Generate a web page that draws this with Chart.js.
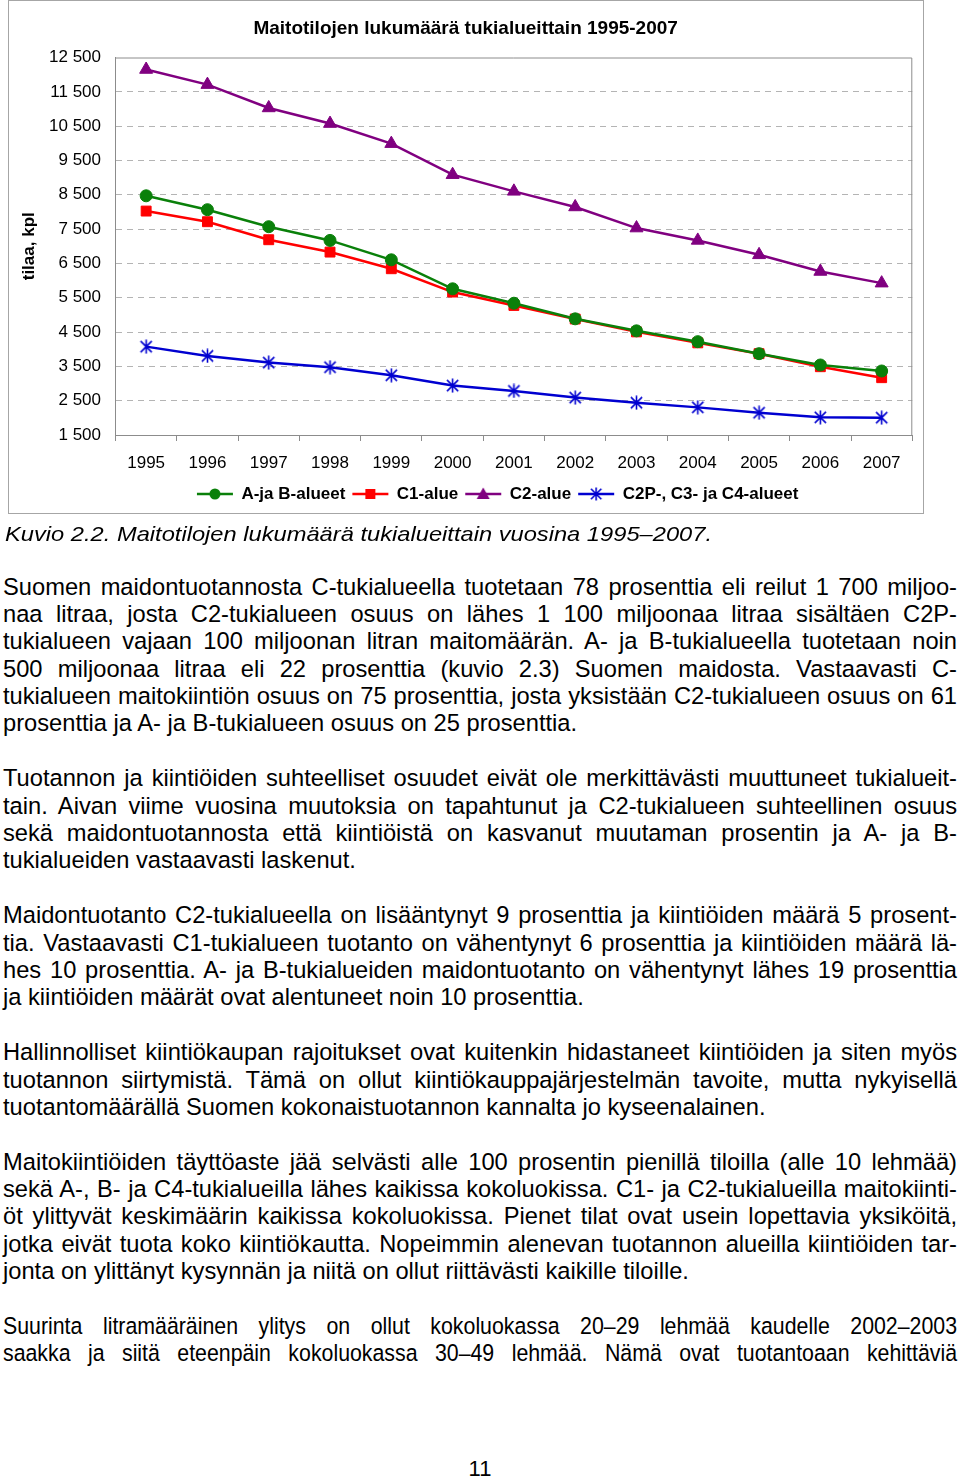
<!DOCTYPE html>
<html><head><meta charset="utf-8">
<script src="https://cdn.jsdelivr.net/npm/chart.js@4.4.0/dist/chart.umd.min.js"></script>
<style>
html,body{margin:0;padding:0;background:#fff;}
body{width:960px;height:1478px;position:relative;overflow:hidden;font-family:"Liberation Sans",Arial,sans-serif;color:#000;}
#frame{position:absolute;left:8px;top:0;width:914px;height:512px;border:1px solid #a6a6a6;}
#chart{position:absolute;left:9px;top:1px;}
#caption{position:absolute;left:5px;top:520px;font-style:italic;font-size:21px;line-height:27px;white-space:nowrap;}
#caption span{display:inline-block;white-space:pre;transform-origin:0 0;}
#body{position:absolute;left:3px;top:573.5px;width:954px;font-size:23.7px;line-height:27.4px;}
.ln{height:27.4px;white-space:nowrap;}
.ln span{white-space:pre;display:inline-block;transform-origin:0 0;}
#page{position:absolute;left:0;width:960px;top:1455px;text-align:center;font-size:22px;line-height:27px;}
</style></head>
<body>
<div id="frame"></div>
<canvas id="chart" width="914" height="530"></canvas>
<div id="caption"><span>Kuvio 2.2. Maitotilojen lukumäärä tukialueittain vuosina 1995–2007.</span></div>
<div id="body">
<div class="ln j"><span>Suomen maidontuotannosta C-tukialueella tuotetaan 78 prosenttia eli reilut 1 700 miljoo-</span></div>
<div class="ln j"><span>naa litraa, josta C2-tukialueen osuus on lähes 1 100 miljoonaa litraa sisältäen C2P-</span></div>
<div class="ln j"><span>tukialueen vajaan 100 miljoonan litran maitomäärän. A- ja B-tukialueella tuotetaan noin</span></div>
<div class="ln j"><span>500 miljoonaa litraa eli 22 prosenttia (kuvio 2.3) Suomen maidosta. Vastaavasti C-</span></div>
<div class="ln j"><span>tukialueen maitokiintiön osuus on 75 prosenttia, josta yksistään C2-tukialueen osuus on 61</span></div>
<div class="ln"><span>prosenttia ja A- ja B-tukialueen osuus on 25 prosenttia.</span></div>
<div class="ln"></div>
<div class="ln j"><span>Tuotannon ja kiintiöiden suhteelliset osuudet eivät ole merkittävästi muuttuneet tukialueit-</span></div>
<div class="ln j"><span>tain. Aivan viime vuosina muutoksia on tapahtunut ja C2-tukialueen suhteellinen osuus</span></div>
<div class="ln j"><span>sekä maidontuotannosta että kiintiöistä on kasvanut muutaman prosentin ja A- ja B-</span></div>
<div class="ln"><span>tukialueiden vastaavasti laskenut.</span></div>
<div class="ln"></div>
<div class="ln j"><span>Maidontuotanto C2-tukialueella on lisääntynyt 9 prosenttia ja kiintiöiden määrä 5 prosent-</span></div>
<div class="ln j"><span>tia. Vastaavasti C1-tukialueen tuotanto on vähentynyt 6 prosenttia ja kiintiöiden määrä lä-</span></div>
<div class="ln j"><span>hes 10 prosenttia. A- ja B-tukialueiden maidontuotanto on vähentynyt lähes 19 prosenttia</span></div>
<div class="ln"><span>ja kiintiöiden määrät ovat alentuneet noin 10 prosenttia.</span></div>
<div class="ln"></div>
<div class="ln j"><span>Hallinnolliset kiintiökaupan rajoitukset ovat kuitenkin hidastaneet kiintiöiden ja siten myös</span></div>
<div class="ln j"><span>tuotannon siirtymistä. Tämä on ollut kiintiökauppajärjestelmän tavoite, mutta nykyisellä</span></div>
<div class="ln"><span>tuotantomäärällä Suomen kokonaistuotannon kannalta jo kyseenalainen.</span></div>
<div class="ln"></div>
<div class="ln j"><span>Maitokiintiöiden täyttöaste jää selvästi alle 100 prosentin pienillä tiloilla (alle 10 lehmää)</span></div>
<div class="ln j"><span>sekä A-, B- ja C4-tukialueilla lähes kaikissa kokoluokissa. C1- ja C2-tukialueilla maitokiinti-</span></div>
<div class="ln j"><span>öt ylittyvät keskimäärin kaikissa kokoluokissa. Pienet tilat ovat usein lopettavia yksiköitä,</span></div>
<div class="ln j"><span>jotka eivät tuota koko kiintiökautta. Nopeimmin alenevan tuotannon alueilla kiintiöiden tar-</span></div>
<div class="ln"><span>jonta on ylittänyt kysynnän ja niitä on ollut riittävästi kaikille tiloille.</span></div>
<div class="ln"></div>
<div class="ln j" data-sx="0.9"><span>Suurinta litramääräinen ylitys on ollut kokoluokassa 20–29 lehmää kaudelle 2002–2003</span></div>
<div class="ln j" data-sx="0.9"><span>saakka ja siitä eteenpäin kokoluokassa 30–49 lehmää. Nämä ovat tuotantoaan kehittäviä</span></div>
</div>
<div id="page">11</div>
<script>
// ---- data ----
const years = ['1995','1996','1997','1998','1999','2000','2001','2002','2003','2004','2005','2006','2007'];
const abAlueet = [8470, 8065, 7570, 7170, 6605, 5760, 5340, 4885, 4535, 4220, 3870, 3540, 3365];
const c1Alue   = [8025, 7715, 7190, 6830, 6345, 5665, 5275, 4880, 4505, 4185, 3870, 3490, 3170];
const c2Alue   = [12150, 11710, 11030, 10575, 9990, 9085, 8600, 8145, 7530, 7170, 6750, 6265, 5925];
const c2pC3C4  = [4075, 3805, 3610, 3475, 3240, 2940, 2785, 2590, 2440, 2305, 2150, 2015, 2005];
const seriesNames = ['A-ja B-alueet', 'C1-alue', 'C2-alue', 'C2P-, C3- ja C4-alueet'];
const yMin = 1500, yMax = 12500, yStep = 1000;
const chartTitle = 'Maitotilojen lukumäärä tukialueittain 1995-2007';
const yTitle = 'tilaa, kpl';

const GREEN = '#0a800a', RED = '#ff0000', PURPLE = '#800080', BLUE = '#0000d0';

// ---- text fitting ----
document.querySelectorAll('.ln').forEach(div => {
  const span = div.firstElementChild; if (!span) return;
  const just = div.classList.contains('j');
  const squeeze = parseFloat(div.dataset.sx || '1');
  const target = 954 / squeeze;
  const w = span.getBoundingClientRect().width;
  const spaces = (span.textContent.match(/ /g) || []).length;
  let sx = squeeze;
  if (just) {
    if (w <= target) span.style.wordSpacing = ((target - w) / spaces) + 'px';
    else sx = squeeze * target / w;
  }
  if (sx !== 1) span.style.transform = 'scaleX(' + sx + ')';
});
(function(){
  const s = document.querySelector('#caption span');
  const w = s.getBoundingClientRect().width;
  s.style.transform = 'scaleX(' + (707 / w) + ')';
})();

// ---- marker images ----
function starImg(color, size) {
  const c = document.createElement('canvas'); c.width = size; c.height = size;
  const g = c.getContext('2d'); const m = size / 2, r = size / 2 - 0.5, d = r * 0.8;
  g.strokeStyle = color; g.lineWidth = 1.6;
  g.beginPath();
  g.moveTo(m, m - r); g.lineTo(m, m + r);
  g.moveTo(m - d, m - d); g.lineTo(m + d, m + d);
  g.moveTo(m + d, m - d); g.lineTo(m - d, m + d);
  g.stroke();
  return c;
}
function legendImg(color, kind) {
  const c = document.createElement('canvas'); c.width = 38; c.height = 16;
  const g = c.getContext('2d'); const cx = 19, cy = 8;
  g.strokeStyle = color; g.fillStyle = color; g.lineWidth = 2.5;
  g.beginPath(); g.moveTo(1, cy); g.lineTo(37, cy); g.stroke();
  g.beginPath();
  if (kind === 'circle') { g.arc(cx, cy, 5.5, 0, Math.PI * 2); g.fill(); }
  else if (kind === 'rect') { g.fillRect(cx - 5, cy - 5, 10, 10); }
  else if (kind === 'triangle') { g.moveTo(cx, cy - 6.5); g.lineTo(cx + 6.5, cy + 5); g.lineTo(cx - 6.5, cy + 5); g.closePath(); g.fill(); }
  else { g.drawImage(starImg(color, 14), cx - 7, cy - 7); }
  return c;
}
const legendImages = [legendImg(GREEN, 'circle'), legendImg(RED, 'rect'), legendImg(PURPLE, 'triangle'), legendImg(BLUE, 'star')];

const fmt = v => String(v).replace(/\B(?=(\d{3})+(?!\d))/g, ' ');

const frame = {
  id: 'frame',
  beforeDatasetsDraw(chart) {
    const a = chart.chartArea, ctx = chart.ctx;
    ctx.save(); ctx.strokeStyle = '#8c8c8c'; ctx.lineWidth = 1;
    ctx.beginPath();
    ctx.moveTo(a.left, a.top + 0.5); ctx.lineTo(a.right - 0.5, a.top + 0.5); ctx.lineTo(a.right - 0.5, a.bottom);
    ctx.stroke(); ctx.restore();
  }
};
const legendShift = {
  id: 'legendShift',
  afterLayout(chart) { const l = chart.legend; if (l) { l.left += 32; l.right += 32; } }
};

Chart.defaults.font.family = '"Liberation Sans", Arial, sans-serif';
Chart.defaults.color = '#000';

function ds(label, data, color, style, radius) {
  return {
    label, data, borderColor: color, backgroundColor: color,
    pointBackgroundColor: color, pointBorderColor: color,
    pointStyle: style, pointRadius: radius, pointBorderWidth: 1,
    borderWidth: 2.5, tension: 0, clip: false
  };
}

new Chart(document.getElementById('chart'), {
  type: 'line',
  data: {
    labels: years,
    datasets: [
      ds(seriesNames[0], abAlueet, GREEN, 'circle', 6),
      ds(seriesNames[1], c1Alue, RED, 'rect', 7),
      ds(seriesNames[2], c2Alue, PURPLE, 'triangle', 7.5),
      ds(seriesNames[3], c2pC3C4, BLUE, starImg(BLUE, 15), 7)
    ]
  },
  options: {
    responsive: false, animation: false, events: [],
    layout: { padding: { left: 10, right: 10.7, top: 0, bottom: 18.5 } },
    plugins: {
      title: { display: true, text: chartTitle, font: { size: 19, weight: 'bold' }, padding: { top: 16.6, bottom: 17.1 }, color: '#000' },
      legend: {
        position: 'bottom',
        labels: {
          usePointStyle: true, pointStyleWidth: 36, padding: 7,
          font: { size: 17, weight: 'bold' }, color: '#000',
          generateLabels(chart) {
            const items = Chart.defaults.plugins.legend.labels.generateLabels(chart);
            items.forEach((it, i) => { it.pointStyle = legendImages[i]; });
            return items;
          }
        }
      },
      tooltip: { enabled: false }
    },
    scales: {
      x: {
        offset: true,
        grid: { display: true, drawOnChartArea: false, drawTicks: true, tickLength: 6, offset: true, color: '#8c8c8c', tickColor: '#8c8c8c' },
        border: { display: true, color: '#8c8c8c' },
        ticks: { font: { size: 17 }, padding: 12, maxRotation: 0, autoSkip: false, color: '#000' },
        afterFit(s) { s.height = 43.5; }
      },
      y: {
        min: yMin, max: yMax,
        grid: {
          drawTicks: false, lineWidth: 1,
          color: c => (c.tick && (c.tick.value === yMin || c.tick.value === yMax)) ? 'rgba(0,0,0,0)' : '#b4b4b4'
        },
        border: { display: true, color: '#8c8c8c', dash: [6, 5] },
        ticks: { stepSize: yStep, font: { size: 17 }, padding: 14.5, color: '#000', callback: v => fmt(v) },
        title: { display: true, text: yTitle, font: { size: 17, weight: 'bold' }, padding: { top: 0, bottom: 0 }, color: '#000' },
        afterFit(s) { s.width = 96.5; }
      }
    }
  },
  plugins: [frame, legendShift]
});
</script>
</body></html>
